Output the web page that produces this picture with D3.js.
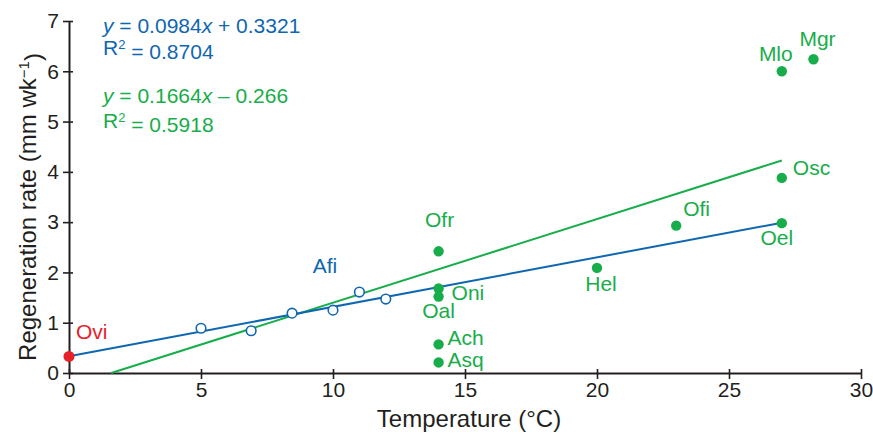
<!DOCTYPE html>
<html>
<head>
<meta charset="utf-8">
<script src="https://d3js.org/d3.v7.min.js"></script>
<style>
  body { margin: 0; background: #fff; }
  svg { font-family: "Liberation Sans", Arial, Helvetica, sans-serif; }
</style>
</head>
<body>
<div id="chart"></div>
<script>
// colours
const BLUE = "#0f67b1";
const GREEN = "#17ad4a";
const RED = "#e8202a";
const INK = "#231f20";

// Afi (open blue circles)
const afiTemp = [5, 6.9, 8.45, 10, 11, 12];
const afiRate = [0.89, 0.84, 1.19, 1.25, 1.61, 1.47];

// Ovi (red)
const oviTemp = [0];
const oviRate = [0.33];

// green species
const greenNames = ["Ofr", "Oni", "Oal", "Ach", "Asq", "Hel", "Ofi", "Oel", "Osc", "Mlo", "Mgr"];
const greenTemp  = [14, 14, 14, 14, 14, 20, 23, 27, 27, 27, 28.2];
const greenRate  = [2.42, 1.68, 1.52, 0.57, 0.21, 2.09, 2.93, 2.98, 3.88, 6.0, 6.24];

// regression fits
const blueFit = { slope: 0.0984, intercept: 0.3321, from: 0, to: 27 };
const greenFit = { slope: 0.1664, intercept: -0.266, from: 0.266 / 0.1664, to: 27 };

const xTicks = [0, 5, 10, 15, 20, 25, 30];
const yTicks = [0, 1, 2, 3, 4, 5, 6, 7];

const width = 873, height = 434;
const margin = { top: 21, right: 12, bottom: 61, left: 69 };
const FS = "21px";

const svg = d3.select("#chart").append("svg")
  .attr("width", width)
  .attr("height", height);

const x = d3.scaleLinear().domain([0, 30]).range([margin.left, width - margin.right]);
const y = d3.scaleLinear().domain([0, 7]).range([height - margin.bottom, margin.top]);

// axes
const xAxis = svg.append("g")
  .attr("transform", `translate(0,${y(0)})`)
  .call(d3.axisBottom(x).tickValues(xTicks).tickFormat(d3.format("d")).tickSize(6).tickPadding(3).tickSizeOuter(0));
const yAxis = svg.append("g")
  .attr("transform", `translate(${x(0)},0)`)
  .call(d3.axisLeft(y).tickValues(yTicks).tickFormat(d3.format("d")).tickSize(6).tickPadding(4).tickSizeOuter(0));

[xAxis, yAxis].forEach(g => {
  g.select(".domain").attr("stroke", INK).attr("stroke-width", 2);
  g.selectAll(".tick line").attr("stroke", INK).attr("stroke-width", 1.6);
  g.selectAll(".tick text").attr("fill", INK).style("font-size", FS).style("font-family", "inherit");
});
xAxis.selectAll(".tick line").attr("y1", -4);
yAxis.selectAll(".tick line").attr("x1", 4);

// axis titles
svg.append("text")
  .attr("x", 469)
  .attr("y", 427)
  .attr("text-anchor", "middle")
  .attr("fill", INK)
  .style("font-size", "24px")
  .text("Temperature (°C)");

const yTitle = svg.append("text")
  .attr("transform", `translate(36,${y(3.5) + 10}) rotate(-90)`)
  .attr("text-anchor", "middle")
  .attr("fill", INK)
  .style("font-size", "24px");
yTitle.append("tspan").text("Regeneration rate (mm wk");
yTitle.append("tspan").attr("dy", "-0.5em").style("font-size", "15px").text("−1");
yTitle.append("tspan").attr("dy", "0.5em").text(")");

// fit lines
const fitLine = (fit, color) => {
  svg.append("line")
    .attr("x1", x(fit.from)).attr("y1", y(fit.slope * fit.from + fit.intercept))
    .attr("x2", x(fit.to)).attr("y2", y(fit.slope * fit.to + fit.intercept))
    .attr("stroke", color)
    .attr("stroke-width", 2);
};
fitLine(greenFit, GREEN);
fitLine(blueFit, BLUE);

// points
svg.append("g").selectAll("circle")
  .data(afiTemp.map((t, i) => [t, afiRate[i]]))
  .join("circle")
  .attr("cx", d => x(d[0]))
  .attr("cy", d => y(d[1]))
  .attr("r", 4.8)
  .attr("fill", "#fff")
  .attr("stroke", BLUE)
  .attr("stroke-width", 1.6);

svg.append("g").selectAll("circle")
  .data(greenTemp.map((t, i) => [t, greenRate[i]]))
  .join("circle")
  .attr("cx", d => x(d[0]))
  .attr("cy", d => y(d[1]))
  .attr("r", 5.2)
  .attr("fill", GREEN);

svg.append("circle")
  .attr("cx", x(oviTemp[0]))
  .attr("cy", y(oviRate[0]))
  .attr("r", 5.5)
  .attr("fill", RED);

// point labels: [dx, dy, anchor] offsets from each point
const greenLabelPos = {
  Ofr: [1, -24, "middle"],
  Oni: [13, 11, "start"],
  Oal: [0, 21, "middle"],
  Ach: [9, 1, "start"],
  Asq: [9, 5, "start"],
  Hel: [4, 23, "middle"],
  Ofi: [7, -10, "start"],
  Oel: [-5, 22, "middle"],
  Osc: [11, -3, "start"],
  Mlo: [-6, -10, "middle"],
  Mgr: [4, -13, "middle"]
};

svg.append("g").selectAll("text")
  .data(greenNames.map((n, i) => ({ n, t: greenTemp[i], r: greenRate[i] })))
  .join("text")
  .attr("x", d => x(d.t) + greenLabelPos[d.n][0])
  .attr("y", d => y(d.r) + greenLabelPos[d.n][1])
  .attr("text-anchor", d => greenLabelPos[d.n][2])
  .attr("fill", GREEN)
  .style("font-size", FS)
  .text(d => d.n);

svg.append("text")
  .attr("x", x(oviTemp[0]) + 7)
  .attr("y", y(oviRate[0]) - 17)
  .attr("fill", RED)
  .style("font-size", FS)
  .text("Ovi");

svg.append("text")
  .attr("x", 325)
  .attr("y", 273)
  .attr("text-anchor", "middle")
  .attr("fill", BLUE)
  .style("font-size", FS)
  .text("Afi");

// equations
const eq = (y1, y2, color, slope, sign, intercept, r2) => {
  const t = svg.append("text").attr("x", 103).attr("y", y1).attr("fill", color).style("font-size", FS);
  t.append("tspan").style("font-style", "italic").text("y");
  t.append("tspan").text(` = ${slope}`);
  t.append("tspan").style("font-style", "italic").text("x");
  t.append("tspan").text(` ${sign} ${intercept}`);
  const r = svg.append("text").attr("x", 103).attr("y", y2).attr("fill", color).style("font-size", FS);
  r.append("tspan").text("R");
  r.append("tspan").attr("dy", "-0.45em").style("font-size", "13px").text("2");
  r.append("tspan").attr("dy", "0.45em").text(` = ${r2}`);
};
eq(33, 55, BLUE, "0.0984", "+", "0.3321", "0.8704");
eq(103, 128, GREEN, "0.1664", "–", "0.266", "0.5918");
</script>
</body>
</html>
